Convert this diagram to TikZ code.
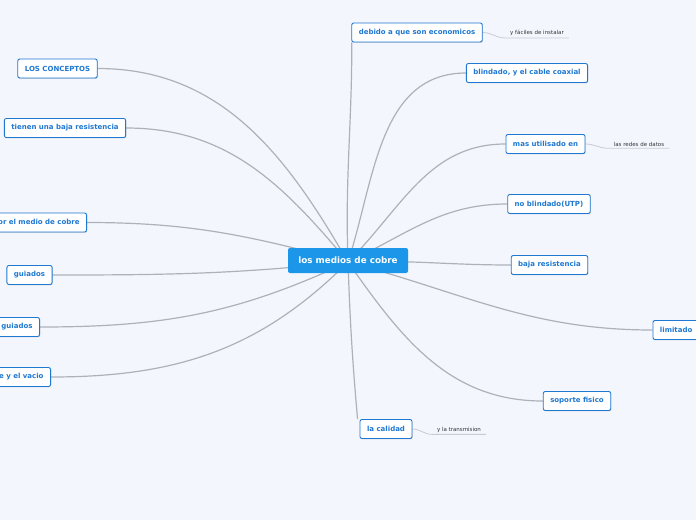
\documentclass[tikz,border=0pt]{standalone}
\usepackage{fontspec}
\setmainfont{DejaVu Sans}
\usepackage{tikz}
\usetikzlibrary{shadows,backgrounds}

\definecolor{bgblue}{HTML}{F3F6FD}
\definecolor{centerblue}{HTML}{1C96E8}
\definecolor{topicblue}{HTML}{1F78D1}
\definecolor{linkgray}{HTML}{ADB1BA}
\definecolor{subgray}{HTML}{C8CBD3}

\begin{document}
\begin{tikzpicture}[
    x=1pt, y=-1pt,
    central/.style={rectangle, fill=centerblue, text=white, rounded corners=2pt, minimum width=120pt, minimum height=25pt, font=\bfseries\fontsize{8.8}{10}\selectfont},
    topic/.style={rectangle, draw=topicblue, line width=0.9pt, fill=white, text=topicblue, rounded corners=2pt, minimum height=19pt, inner xsep=7pt, font=\bfseries\fontsize{7}{8}\selectfont, drop shadow={shadow xshift=0.6pt, shadow yshift=-0.9pt, opacity=0.25}},
    note/.style={inner xsep=5pt, inner ysep=2pt, text=black!80, font=\fontsize{5.5}{6}\selectfont},
    link/.style={draw=linkgray, line width=1.2pt},
    sublink/.style={draw=subgray, line width=0.8pt}
]
\useasboundingbox (0,0) rectangle (696,520);

% Central topic
\node[central] (medios) at (348,260.5) {los medios de cobre};
\coordinate (hub) at (348,262);

% Left topics
\node[topic] (conceptos) at (57.5,68.5) {LOS CONCEPTOS};
\node[topic] (resist) at (65,128) {tienen una baja resistencia};
\node[topic, anchor=east] (medio) at (87,222.5) {por el medio de cobre};
\node[topic] (guiados) at (29.5,275) {guiados};
\node[topic, anchor=east] (noguiados) at (40,327) {no guiados};
\node[topic, anchor=east] (vacio) at (51,377) {el aire y el vacio};

% Right topics
\node[topic] (economicos) at (417,32.5) {debido a que son economicos};
\node[topic] (coaxial) at (527,73) {blindado, y el cable coaxial};
\node[topic] (utilisado) at (545.5,144) {mas utilisado en};
\node[topic] (utp) at (549,204) {no blindado(UTP)};
\node[topic] (baja) at (549.5,265) {baja resistencia};
\node[topic, anchor=west] (limitado) at (652.5,330) {limitado};
\node[topic] (soporte) at (577,401) {soporte fisico};
\node[topic] (calidad) at (386,429) {la calidad};

% Notes
\node[note] (instalar) at (537,33) {y fáciles de instalar};
\node[note] (redes) at (639,144) {las redes de datos};
\node[note] (transmision) at (459,429.5) {y la transmision};

% Connectors
\begin{scope}[on background layer]
\fill[bgblue] (0,0) rectangle (696,520);
\draw[link] (conceptos.east) to[out=0, in=120] (hub);
\draw[link] (resist.east) to[out=0, in=130] (hub);
\draw[link] (medio.east) to[out=0, in=165] (hub);
\draw[link] (guiados.east) to[out=0, in=186] (hub);
\draw[link] (noguiados.east) to[out=0, in=205] (hub);
\draw[link] (vacio.east) to[out=0, in=225] (hub);

\draw[link] ([xshift=0.5pt]economicos.south west) to[out=-90, in=92] (hub);
\draw[link] (coaxial.west) to[out=180, in=72] (hub);
\draw[link] (utilisado.west) to[out=180, in=45] (hub);
\draw[link] (utp.west) to[out=180, in=25] (hub);
\draw[link] (baja.west) to[out=180, in=2] (hub);
\draw[link] (limitado.west) to[out=180, in=-15] (hub);
\draw[link] (soporte.west) to[out=180, in=-55] (hub);
\draw[link] ([xshift=-2pt]calidad.north west) to[out=95, in=-88] (hub);

\draw[sublink] (economicos.east) to[out=0, in=180] (instalar.south west) -- (instalar.south east);
\draw[sublink] (utilisado.east) to[out=0, in=180] (redes.south west) -- (redes.south east);
\draw[sublink] (calidad.east) to[out=0, in=180] (transmision.south west) -- (transmision.south east);
\end{scope}

\end{tikzpicture}
\end{document}
